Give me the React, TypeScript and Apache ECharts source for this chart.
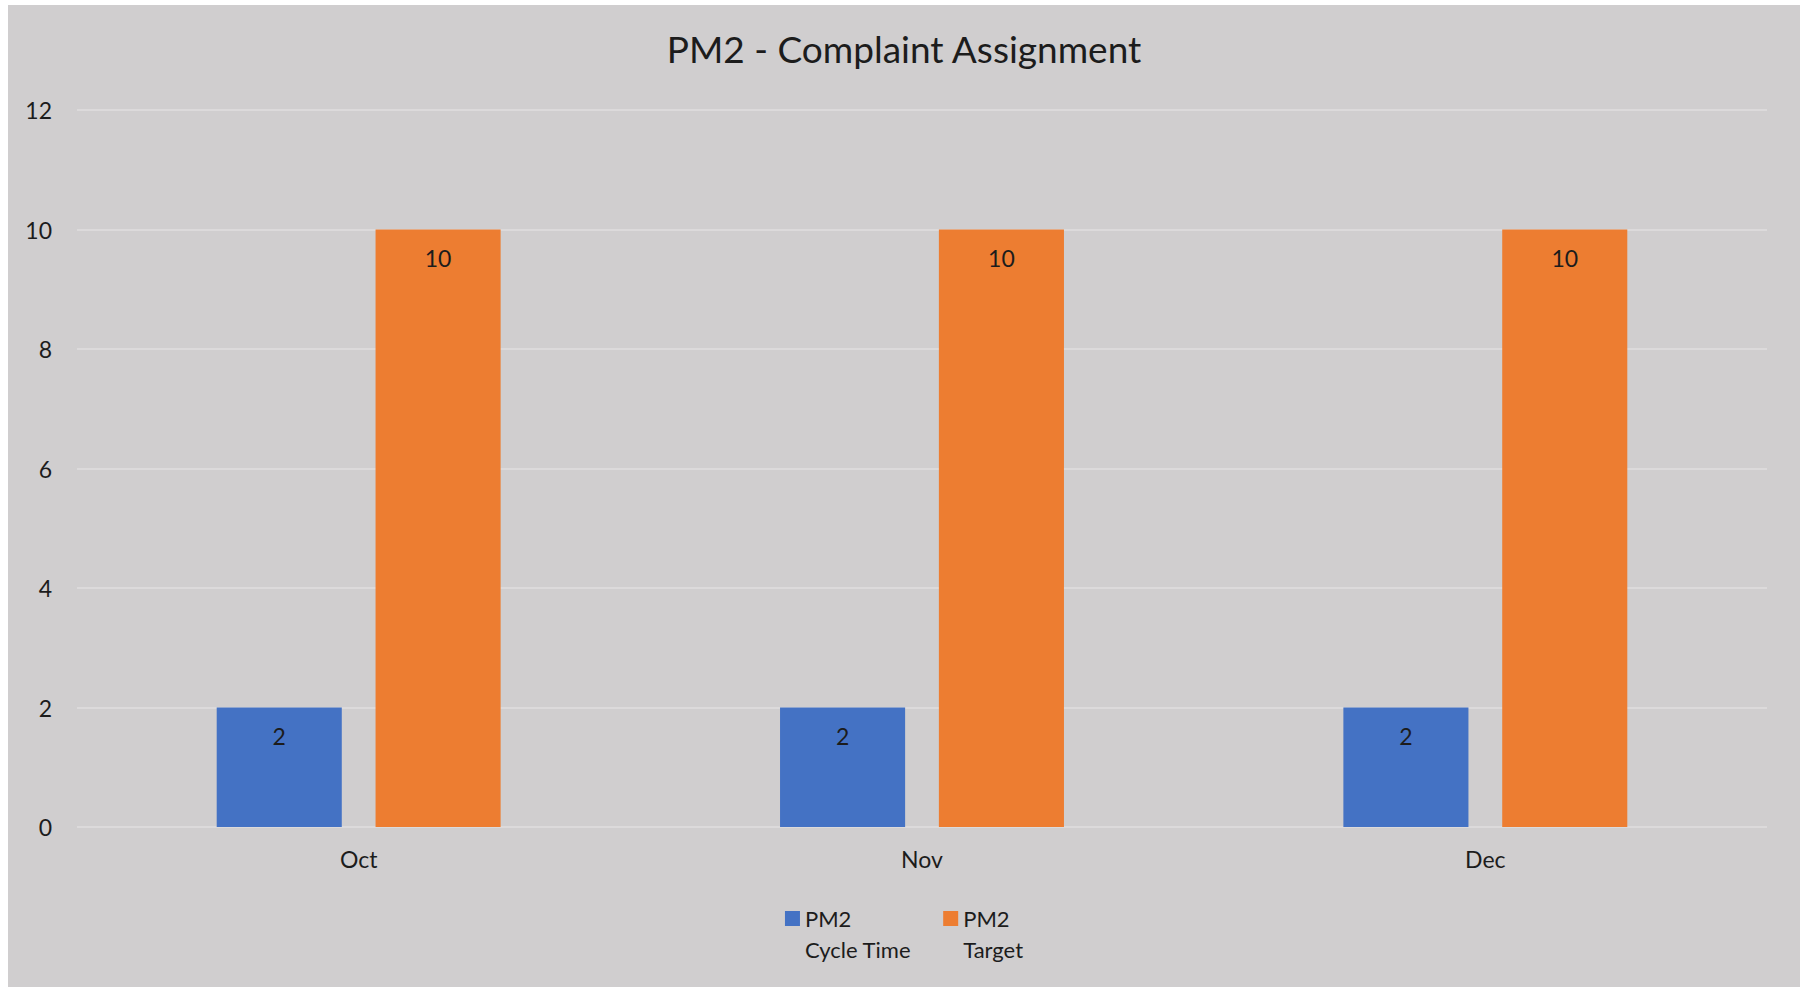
import React, { useEffect, useRef } from "react";
import * as echarts from "echarts";

const categories = ["Oct", "Nov", "Dec"];
const cycleTime = [2, 2, 2];
const target = [10, 10, 10];
const seriesNames = ["PM2 Cycle Time", "PM2 Target"];
const legendLabels: Record<string, string> = {
  "PM2 Cycle Time": "PM2\nCycle Time",
  "PM2 Target": "PM2\nTarget",
};
const titleText = "PM2 - Complaint Assignment";

const FONT = "Lato, 'Liberation Sans', sans-serif";
const TEXT = "#1c1c1c";

export default function App() {
  const ref = useRef<HTMLDivElement>(null);
  useEffect(() => {
    if (!ref.current) return;
    const chart = echarts.init(ref.current, undefined, { renderer: "svg" });
    const labelCommon = {
      show: true,
      position: "insideTop" as const,
      distance: 17,
      color: TEXT,
      fontSize: 23,
      fontFamily: FONT,
    };
    chart.setOption({
      animation: false,
      backgroundColor: "#d0cecf",
      textStyle: { fontFamily: FONT },
      title: {
        text: titleText,
        left: "center",
        top: 20,
        textStyle: { fontSize: 37, fontWeight: "normal", color: TEXT, fontFamily: FONT },
      },
      legend: {
        data: seriesNames,
        left: "center",
        top: 867,
        padding: 0,
        itemWidth: 15,
        itemHeight: 15,
        itemGap: 32,
        icon: "rect",
        formatter: (n: string) => "\n" + (legendLabels[n] ?? n),
        textStyle: {
          fontSize: 22,
          color: TEXT,
          fontFamily: FONT,
          lineHeight: 31,
        },
      },
      grid: { left: 69, right: 33, top: 105, bottom: 160, containLabel: false },
      xAxis: {
        type: "category",
        data: categories,
        axisLine: { show: false },
        axisTick: { show: false },
        axisLabel: { color: TEXT, fontSize: 23, fontFamily: FONT, margin: 20 },
      },
      yAxis: {
        type: "value",
        min: 0,
        max: 12,
        interval: 2,
        axisLine: { show: false },
        axisTick: { show: false },
        axisLabel: { color: TEXT, fontSize: 23, fontFamily: FONT, margin: 25 },
        splitLine: { lineStyle: { color: "#dcdadb", width: 2 } },
      },
      series: [
        {
          name: seriesNames[0],
          type: "bar",
          data: cycleTime,
          itemStyle: { color: "#4472c4" },
          barGap: "27%",
          barCategoryGap: "49.6%",
          label: labelCommon,
        },
        {
          name: seriesNames[1],
          type: "bar",
          data: target,
          itemStyle: { color: "#ed7d31" },
          barGap: "27%",
          barCategoryGap: "49.6%",
          label: labelCommon,
        },
      ],
    });
    return () => chart.dispose();
  }, []);
  return (
    <div style={{ position: "fixed", left: 0, top: 0, width: 1803, height: 987, background: "#ffffff" }}>
      <div
        ref={ref}
        style={{ position: "absolute", left: 8, top: 5, width: 1792, height: 982 }}
      />
    </div>
  );
}
